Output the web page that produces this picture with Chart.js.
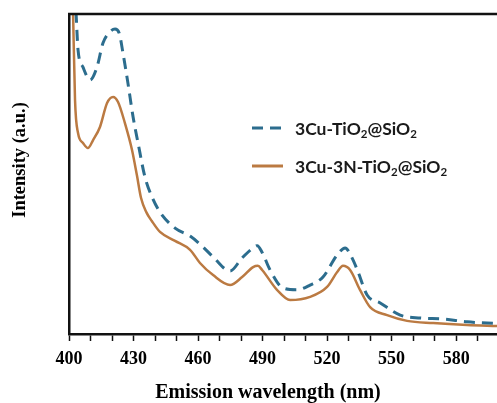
<!DOCTYPE html>
<html>
<head>
<meta charset="utf-8">
<script src="https://cdn.jsdelivr.net/npm/chart.js@4/dist/chart.umd.min.js"></script>
<style>
  body { margin: 0; background: #fff; }
  #wrap { width: 497px; height: 403px; position: relative; }
</style>
</head>
<body>
<div id="wrap"><canvas id="pl" width="497" height="403"></canvas></div>
<script>
// emission spectra (intensity in arbitrary units, 0-100 = axis height)
const blueNm = [400, 403.3, 404.2, 406.5, 409.8, 413, 415.8, 419, 421.4, 423.3, 425.1, 427.4, 429.8, 432.1, 435.3, 438.6, 442.3, 449.3, 456.3, 462.3, 467, 474.9, 480.5, 485.6, 487.5, 489.8, 493.5, 499.5, 506, 512.1, 518.1, 524.7, 528.4, 531.6, 534.4, 538.6, 544.7, 554, 563.3, 574, 585.1, 599];
const blueInt = [140, 100, 88.8, 83.4, 79.4, 83.4, 90.9, 94.4, 95.3, 94.1, 87.8, 78.4, 67.8, 59.7, 49.1, 42.8, 38.1, 33.1, 30.6, 27.2, 24.1, 19.7, 23.8, 26.9, 27.6, 25.5, 20, 14.4, 13.8, 15.3, 17.8, 24.7, 26.9, 23.8, 19.4, 12.2, 9.7, 5.9, 5, 4.7, 3.8, 3.3];

const orangeNm = [400, 401.9, 402.8, 404.2, 406.5, 408.8, 411.2, 414.4, 417.7, 420.5, 422.8, 426, 429.3, 431.6, 433.5, 436, 438.5, 442.3, 449.3, 456.3, 460.9, 467, 474.9, 480.5, 485.6, 487.8, 489.8, 496.7, 502.8, 512.1, 520, 524.7, 527.4, 530.7, 535.3, 540, 547.9, 557.2, 569.3, 585.1, 599];
const orangeInt = [150, 100, 73.1, 62.8, 59.7, 58.1, 60.6, 64.7, 72.2, 74.1, 72.5, 65.9, 57.5, 49.5, 42.5, 38, 35.3, 31.9, 29.1, 26.3, 22.2, 18.4, 15.3, 17.8, 20.9, 21.3, 20, 13.8, 10.6, 11.6, 14.7, 19.4, 21.3, 20, 13.8, 8.4, 5.9, 4.1, 3.4, 2.8, 2.5];

const xLabels = [400, 430, 460, 490, 520, 550, 580];
const seriesNames = [['3Cu-TiO', '2', '@SiO', '2'], ['3Cu-3N-TiO', '2', '@SiO', '2']];

const blueCol = '#2c6d8e';
const orangeCol = '#bb7a42';

const toPts = (xs, ys) => xs.map((x, i) => ({ x: x, y: ys[i] }));

// frame top line, axis titles and the legend with subscripts
const extras = {
  id: 'extras',
  afterDraw(chart) {
    const ctx = chart.ctx;
    const a = chart.chartArea;
    ctx.save();
    ctx.strokeStyle = '#111';
    ctx.lineWidth = 2.5;
    ctx.beginPath();
    ctx.moveTo(a.left - 1, a.top);
    ctx.lineTo(a.right, a.top);
    ctx.stroke();

    ctx.fillStyle = '#000';
    ctx.textAlign = 'center';
    ctx.textBaseline = 'middle';
    ctx.font = 'bold 20px "Liberation Serif"';
    ctx.fillText('Emission wavelength (nm)', 268, 393);
    ctx.save();
    ctx.translate(20, 160);
    ctx.rotate(-Math.PI / 2);
    ctx.font = 'bold 18.5px "Liberation Serif"';
    ctx.fillText('Intensity (a.u.)', 0, 0);
    ctx.restore();

    // legend
    const rows = [128, 166];
    chart.data.datasets.forEach((ds, i) => {
      const y = rows[i];
      ctx.save();
      ctx.strokeStyle = ds.borderColor;
      ctx.lineWidth = 3;
      ctx.setLineDash(ds.borderDash || []);
      ctx.beginPath();
      ctx.moveTo(252, y);
      ctx.lineTo(283, y);
      ctx.stroke();
      ctx.restore();

      let x = 295;
      ctx.textAlign = 'left';
      ctx.fillStyle = '#1a1a1a';
      seriesNames[i].forEach((part, k) => {
        const sub = k % 2 === 1;
        ctx.font = sub ? 'bold 11.5px Lato' : 'bold 17.5px Lato';
        ctx.fillText(part, x, sub ? y + 6 : y + 1);
        x += ctx.measureText(part).width;
      });
    });
    ctx.restore();
  }
};

new Chart(document.getElementById('pl'), {
  type: 'line',
  data: {
    datasets: [{
      label: seriesNames[0].join(''),
      data: toPts(blueNm, blueInt),
      borderColor: blueCol,
      borderWidth: 3,
      borderDash: [11, 7],
      pointRadius: 0,
      cubicInterpolationMode: 'monotone',
      fill: false,
      clip: 0
    }, {
      label: seriesNames[1].join(''),
      data: toPts(orangeNm, orangeInt),
      borderColor: orangeCol,
      borderWidth: 2.5,
      pointRadius: 0,
      cubicInterpolationMode: 'monotone',
      fill: false,
      clip: 0
    }]
  },
  options: {
    responsive: false,
    animation: false,
    layout: { padding: { left: 69, top: 14, right: 0, bottom: 0 } },
    plugins: { legend: { display: false }, tooltip: { enabled: false } },
    scales: {
      x: {
        type: 'linear',
        min: 400,
        max: 599,
        afterFit: s => { s.height = 69; },
        border: { display: true, color: '#111', width: 2.5 },
        grid: { display: true, drawOnChartArea: false, drawTicks: true, tickLength: 7, tickColor: '#111', tickWidth: 1.5 },
        ticks: {
          stepSize: 10,
          includeBounds: false,
          autoSkip: false,
          maxRotation: 0,
          padding: 8,
          color: '#000',
          font: { family: '"Liberation Serif"', size: 18, weight: 'bold' },
          callback: v => xLabels.includes(v) ? String(v) : ''
        }
      },
      y: {
        min: 0,
        max: 100,
        afterFit: s => { s.width = 0; },
        border: { display: true, color: '#111', width: 2.5 },
        grid: { display: false },
        ticks: { display: false }
      }
    }
  },
  plugins: [extras]
});
</script>
</body>
</html>
